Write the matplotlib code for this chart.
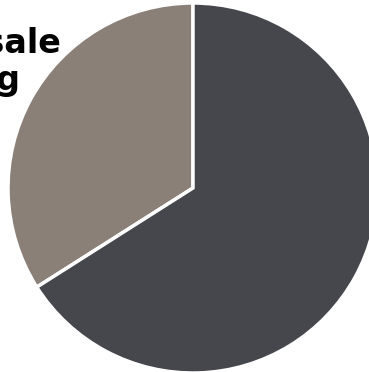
import matplotlib
matplotlib.use("Agg")
import matplotlib.pyplot as plt

# slice data
labels = ["Wholesale", "Other"]
shares = [34, 66]
colors = ["#8a8078", "#46474c"]

W, H = 369, 372
fig = plt.figure(figsize=(W / 100, H / 100), dpi=100)

# pie centre (193, 188) px, radius 185 px -> part of it falls off the canvas
cx, cy, r = 193, 188, 185
ax = fig.add_axes([(cx - r) / W, (H - cy - r) / H, 2 * r / W, 2 * r / H])
ax.pie(shares, colors=colors, startangle=90, counterclock=True, radius=1,
       wedgeprops=dict(edgecolor="white", linewidth=2.5))
ax.set_xlim(-1, 1)
ax.set_ylim(-1, 1)
ax.set_aspect("equal")
ax.axis("off")

# slice label, cut off by the left edge as in the original
fig.text(61 / W, 1 - 53 / H, "Wholesale", ha="right", va="baseline",
         fontsize=24, fontweight="bold", color="black")
fig.text(21 / W, 1 - 90 / H, "Pricing", ha="right", va="baseline",
         fontsize=24, fontweight="bold", color="black")

fig.savefig("out.png", dpi=100)
